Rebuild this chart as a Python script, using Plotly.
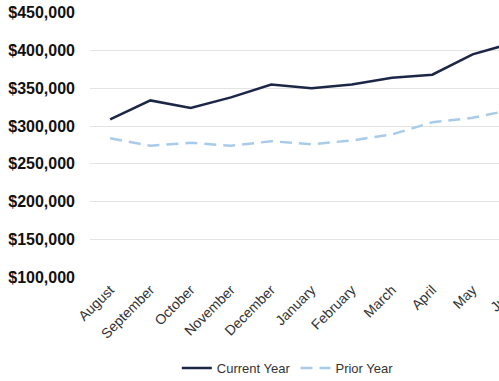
import plotly.graph_objects as go

months = ["August", "September", "October", "November", "December", "January",
          "February", "March", "April", "May", "June"]
current_year = [309000, 334000, 324000, 338000, 355000, 350000, 355000, 364000, 368000, 395000, 410000]
prior_year = [284000, 274000, 278000, 274000, 280000, 276000, 281000, 289000, 305000, 311000, 322000]
y_ticks = [100000, 150000, 200000, 250000, 300000, 350000, 400000, 450000]
y_tick_labels = ["$100,000", "$150,000", "$200,000", "$250,000", "$300,000", "$350,000", "$400,000", "$450,000"]

fig = go.Figure()
fig.add_trace(go.Scatter(x=months, y=current_year, name="Current Year", mode="lines",
                         line=dict(color="#1c2647", width=2.5)))
fig.add_trace(go.Scatter(x=months, y=prior_year, name="Prior Year", mode="lines",
                         line=dict(color="#a9cbea", width=2.5, dash="12px,7px")))

fig.update_layout(
    width=533, height=381,
    margin=dict(l=90, r=0, t=12, b=103, autoexpand=False),
    plot_bgcolor="white", paper_bgcolor="white",
    font=dict(family="Liberation Sans, Arial, sans-serif", color="#333333"),
    showlegend=True,
    legend=dict(orientation="h", xref="container", x=0.54, xanchor="center",
                yref="container", y=0.034, yanchor="middle",
                font=dict(size=13, color="#333333"), itemwidth=30, tracegroupgap=0),
)
fig.update_xaxes(type="category", range=[-0.5, 10.5], tickangle=-45, showgrid=False,
                 tickfont=dict(size=14, color="#333333"), showline=False, ticks="",
                 automargin=False)
fig.update_yaxes(range=[99000, 451000], tickvals=y_ticks, ticktext=y_tick_labels,
                 showgrid=True, gridcolor="#e4e4e4", gridwidth=1, zeroline=False,
                 tickfont=dict(size=16, color="#111111", weight="bold"),
                 ticklabelstandoff=14, showline=False, automargin=False)

fig.write_html("out.html", config={"displayModeBar": False},
               post_script="document.documentElement.style.overflow='hidden';document.body.style.margin='0';document.body.style.overflow='hidden';")
